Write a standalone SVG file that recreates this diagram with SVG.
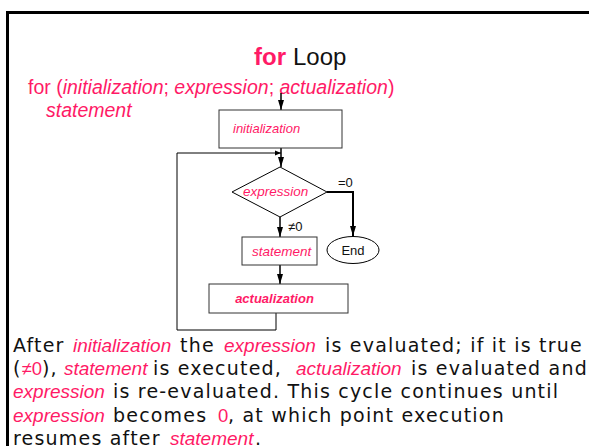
<svg xmlns="http://www.w3.org/2000/svg" width="589" height="446" viewBox="0 0 589 446">
  <style>
    .pk { fill: #ff1a66; }
    .sans { font-family: "Liberation Sans", Arial, sans-serif; }
    .it { font-style: italic; }
    .box { fill: #ffffff; stroke: #333333; stroke-width: 1; }
    .wire { fill: none; stroke: #000000; stroke-width: 1.5; }
    .thin { fill: none; stroke: #000000; stroke-width: 1; }
    .body { font-family: "DejaVu Sans", Verdana, sans-serif; font-size: 19px; fill: #111111; letter-spacing: 1.2px; }
    .bi { font-family: "Liberation Sans", Arial, sans-serif; font-style: italic; font-size: 19px; fill: #ff1a66; letter-spacing: 0; }
    .bn { font-family: "Liberation Sans", Arial, sans-serif; font-size: 18.5px; fill: #ff1a66; letter-spacing: 0; }
  </style>
  <defs>
    <marker id="arrow" viewBox="0 0 10 6" refX="10" refY="3" markerWidth="10" markerHeight="6" markerUnits="userSpaceOnUse" orient="auto">
      <path d="M0,0 L10,3 L0,6 Z" fill="#000000"/>
    </marker>
    <marker id="tick" viewBox="0 0 6 6" refX="6" refY="3" markerWidth="6" markerHeight="6" markerUnits="userSpaceOnUse" orient="auto">
      <path d="M0,0.5 L6,3 L0,5.5 Z" fill="#000000"/>
    </marker>
  </defs>

  <!-- slide frame -->
  <path d="M7.5,460 V12.5 H600" fill="none" stroke="#000000" stroke-width="3"/>

  <!-- heading -->
  <g id="title">
    <text x="254" y="65" class="sans" font-size="24"><tspan class="pk" font-weight="bold">for</tspan><tspan x="293" fill="#111111">Loop</tspan></text>
  </g>

  <!-- syntax -->
  <g id="syntax" class="sans pk" font-size="19.5">
    <text x="28" y="94">for (<tspan class="it">initialization</tspan>; <tspan class="it">expression</tspan>; <tspan class="it">actualization</tspan>)</text>
    <text x="46" y="117" class="it">statement</text>
  </g>

  <!-- connectors -->
  <g id="connectors">
    <line x1="281" y1="93" x2="281" y2="110" class="wire" marker-end="url(#arrow)"/>
    <line x1="281" y1="148" x2="281" y2="167" class="wire" marker-end="url(#arrow)"/>
    <path d="M276,313 V330 H177 V153 H281" class="thin" marker-end="url(#tick)"/>
    <line x1="280" y1="217" x2="280" y2="237" class="wire" marker-end="url(#arrow)"/>
    <line x1="280" y1="265" x2="280" y2="284" class="wire" marker-end="url(#arrow)"/>
    <path d="M327,192 H353 V236" fill="none" stroke="#000000" stroke-width="2" marker-end="url(#arrow)"/>
    <text x="338" y="187" class="sans" font-size="13" fill="#111111">=0</text>
    <text x="288" y="231" class="sans" font-size="13" fill="#111111">≠0</text>
  </g>

  <g id="node-initialization">
    <rect x="219" y="110" width="123" height="38" class="box"/>
    <text x="233" y="133" class="sans it pk" font-size="13">initialization</text>
  </g>

  <g id="node-expression">
    <polygon points="232,192 280,167 327,192 280,217" fill="#ffffff" stroke="#000000" stroke-width="1"/>
    <text x="243" y="196" class="sans it pk" font-size="13.5">expression</text>
  </g>

  <g id="node-statement">
    <rect x="242" y="237" width="75" height="28" class="box"/>
    <text x="252" y="256" class="sans it pk" font-size="13.5">statement</text>
  </g>

  <g id="node-end">
    <ellipse cx="353" cy="250" rx="26" ry="13.5" fill="#ffffff" stroke="#000000" stroke-width="1"/>
    <text x="353" y="255" class="sans" font-size="13" fill="#111111" text-anchor="middle">End</text>
  </g>

  <g id="node-actualization">
    <rect x="209" y="284" width="139" height="29" class="box"/>
    <text x="274.5" y="303" class="sans it pk" font-size="13" font-weight="bold" text-anchor="middle">actualization</text>
  </g>

  <!-- explanation -->
  <g id="explanation">
    <text y="352" class="body"><tspan x="13">After</tspan><tspan x="73" class="bi">initialization</tspan><tspan x="180">the</tspan><tspan x="224" class="bi">expression</tspan><tspan x="325">is evaluated; if it is true</tspan></text>
    <text y="375" class="body"><tspan x="13">(</tspan><tspan x="21.5" class="bn">≠0</tspan><tspan x="42">),</tspan><tspan x="64" class="bi">statement</tspan><tspan x="153">is executed,</tspan><tspan x="296" class="bi">actualization</tspan><tspan x="411">is evaluated and</tspan></text>
    <text y="398" class="body"><tspan x="13" class="bi">expression</tspan><tspan x="113">is re-evaluated. This cycle continues until</tspan></text>
    <text y="422" class="body"><tspan x="13" class="bi">expression</tspan><tspan x="113">becomes</tspan><tspan x="218" class="bn">0</tspan><tspan x="228">, at which point execution</tspan></text>
    <text y="445" class="body"><tspan x="13">resumes after</tspan><tspan x="170" class="bi">statement</tspan><tspan x="255">.</tspan></text>
  </g>
</svg>
